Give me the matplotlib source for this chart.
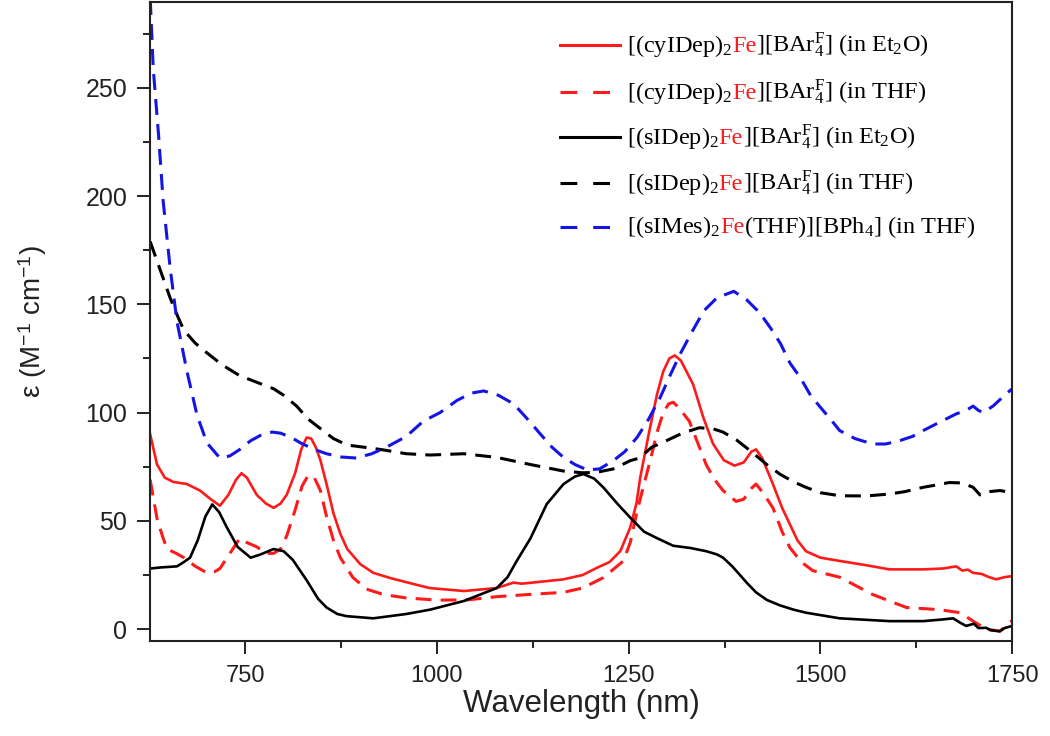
import matplotlib
matplotlib.use('Agg')
import matplotlib.pyplot as plt
from matplotlib.ticker import MultipleLocator
from matplotlib.offsetbox import TextArea, HPacker, DrawingArea, AnnotationBbox
from matplotlib.lines import Line2D

plt.rcParams['font.family'] = 'Liberation Sans'
plt.rcParams['mathtext.fontset'] = 'custom'
plt.rcParams['mathtext.rm'] = 'Liberation Serif'
plt.rcParams['mathtext.it'] = 'Liberation Serif:italic'
plt.rcParams['mathtext.sf'] = 'Liberation Sans'

# [(cyIDep)2Fe][BArF4] in Et2O  (red solid)
cy_et2o_nm = [626, 635, 645, 656, 674, 691, 705, 717, 728, 738, 745, 752, 765, 777, 787, 796, 804,
              815, 823, 830, 836, 842, 848, 856, 865, 874, 883, 900, 917, 940, 961, 990, 1035, 1078,
              1100, 1110, 1122, 1165, 1190, 1209, 1225, 1239, 1252, 1260, 1265, 1276, 1287, 1295,
              1303, 1310, 1318, 1334, 1347, 1360, 1374, 1388, 1400, 1410, 1416, 1424, 1438, 1450,
              1460, 1470, 1481, 1500, 1525, 1560, 1590, 1634, 1660, 1677, 1685, 1692, 1699, 1710,
              1720, 1729, 1740, 1750]
cy_et2o_eps = [90, 76, 70, 68, 67, 64, 60, 57, 62, 69, 72, 70, 62, 58, 56, 58, 62,
               72, 83, 88.5, 88, 84, 78, 67, 53.5, 44, 37, 30, 26, 23.5, 21.6, 19, 17.6, 19,
               21.5, 21, 21.4, 23, 25, 28.4, 31, 36, 47, 58, 70, 90, 108.6, 119,
               125, 126.4, 124, 113, 98, 85.5, 78, 75.5, 77, 82, 83, 79, 67, 56,
               48.5, 41, 36, 33, 31.5, 29.5, 27.6, 27.6, 28, 29, 27, 27.5, 26, 25.5,
               24, 23, 24, 24.5]

# [(cyIDep)2Fe][BArF4] in THF  (red dashed)
cy_thf_nm = [626, 635, 642, 648, 660, 670, 685, 700, 710, 717, 730, 743, 752, 765, 777, 787, 796,
             804, 815, 824, 832, 840, 848, 856, 865, 874, 890, 908, 930, 960, 1000, 1040, 1078,
             1120, 1165, 1190, 1217, 1243, 1252, 1261, 1270, 1278, 1287, 1295, 1302, 1308, 1316,
             1329, 1340, 1351, 1362, 1373, 1390, 1400, 1410, 1416, 1425, 1438, 1450, 1460, 1475,
             1490, 1525, 1568, 1612, 1655, 1682, 1699, 1716, 1734, 1750]
cy_thf_eps = [69, 51, 43, 37, 35, 33, 29, 26, 26.5, 28, 35, 42, 40, 38, 35, 35, 37,
              43, 55, 66, 71, 70, 64, 52, 41, 33, 24, 18.5, 16, 14.4, 13.4, 13.5, 15,
              16, 17, 19, 23.8, 31.5, 40, 54.6, 67, 77.8, 91, 100, 104, 104.8, 102,
              96, 86, 76, 69, 64, 59, 60, 65, 67, 63, 56, 45, 37.7, 31,
              27, 24, 16, 10, 9, 7.6, 3.7, 0, -0.9, 4]

# [(sIDep)2Fe][BArF4] in Et2O  (black solid)
si_et2o_nm = [626, 640, 661, 670, 678, 688, 698, 707, 716, 726, 740, 757, 770, 787, 800, 812, 830,
              845, 856, 870, 882, 917, 960, 991, 1035, 1078, 1092, 1104, 1122, 1143, 1165, 1180,
              1191, 1205, 1217, 1235, 1252, 1270, 1287, 1308, 1330, 1351, 1365, 1373, 1385, 1395,
              1405, 1416, 1430, 1447, 1465, 1481, 1525, 1590, 1634, 1660, 1673, 1682, 1690, 1700,
              1706, 1716, 1722, 1734, 1740, 1750]
si_et2o_eps = [28, 28.5, 29, 31, 33, 41, 52, 57.6, 54, 47, 38, 33, 34.5, 37, 36, 32, 22.6,
               14, 10, 7, 6, 5, 7, 9, 13, 19, 24, 31.5, 42, 57.7, 67, 70.5,
               71.6, 69.5, 65.4, 58, 51.5, 45, 42, 38.5, 37.5, 36, 34.5, 33, 29, 25,
               21, 17, 13.5, 11, 9, 7.6, 5, 3.7, 3.7, 4.5, 5, 3, 1.5, 2.5,
               0.5, 0.6, -0.5, -1, 0.5, 1.5]

# [(sIDep)2Fe][BArF4] in THF  (black dashed)
si_thf_nm = [626, 639, 652, 660, 670, 685, 700, 720, 743, 765, 787, 800, 817, 832, 848, 865, 883,
             905, 926, 960, 991, 1035, 1078, 1122, 1165, 1190, 1208, 1230, 1252, 1264, 1280, 1299,
             1320, 1342, 1360, 1373, 1390, 1408, 1430, 1447, 1465, 1481, 1500, 1525, 1560, 1590,
             1610, 1634, 1650, 1668, 1685, 1699, 1708, 1720, 1734, 1750]
si_thf_eps = [179, 166, 153, 146, 138, 132, 127.6, 122, 117, 114, 111, 108, 103, 97, 92.6, 88, 85,
              84, 83, 81, 80.4, 81, 79.3, 76, 73, 72.2, 72.4, 74, 77.8, 79, 84, 87,
              90.5, 93, 92.5, 91, 87.5, 82.5, 76, 71.6, 68, 65.5, 63, 61.6, 61.5, 62.4,
              63.5, 65.5, 66.5, 67.7, 67.5, 65.5, 62, 63.5, 64, 63]

# [(sIMes)2Fe(THF)][BPh4] in THF  (blue dashed)
mes_thf_nm = [626, 630, 637, 643, 652, 661, 674, 687, 700, 717, 730, 743, 757, 770, 785, 796, 810,
              822, 840, 856, 875, 895, 915, 934, 960, 982, 1004, 1026, 1045, 1061, 1080, 1100,
              1118, 1135, 1150, 1165, 1180, 1196, 1212, 1230, 1245, 1261, 1276, 1291, 1305, 1317,
              1332, 1348, 1365, 1387, 1404, 1421, 1435, 1448, 1460, 1474, 1487, 1500, 1513, 1525,
              1545, 1568, 1585, 1603, 1620, 1634, 1655, 1677, 1690, 1699, 1706, 1712, 1725, 1742,
              1750]
mes_thf_eps = [292, 259, 228, 197.5, 167, 142, 119, 99, 86, 79, 80, 83, 87, 89.5, 91, 90.5, 88.5,
               86, 83, 81, 79.5, 79, 81, 84, 89, 96, 100, 105.6, 109, 110, 108, 104,
               97, 90, 84, 79.3, 76, 73.5, 74, 77.8, 82, 88.6, 97, 107, 118, 127,
               137, 147, 153, 156, 152, 146, 139, 131.8, 123, 116, 108, 102.4, 97, 91.7,
               88, 85.5, 85.5, 87, 89, 91.7, 95.5, 99.4, 101, 103, 101, 100, 103, 108.6,
               111]

red = '#ff1a1a'
blue = '#1414e6'

fig = plt.figure(figsize=(10.5, 7.36), dpi=100)
ax = fig.add_axes([0.143, 0.129, 0.821, 0.868])

dash = (5.2, 3.0)
ax.plot(cy_et2o_nm, cy_et2o_eps, color=red, lw=1.9)
ax.plot(cy_thf_nm, cy_thf_eps, color=red, lw=2.2, dashes=dash)
ax.plot(si_et2o_nm, si_et2o_eps, color='black', lw=1.9)
ax.plot(si_thf_nm, si_thf_eps, color='black', lw=2.2, dashes=dash)
ax.plot(mes_thf_nm, mes_thf_eps, color=blue, lw=2.2, dashes=dash)

ax.set_xlim(626, 1750)
ax.set_ylim(-5.5, 289.5)
ax.xaxis.set_major_locator(MultipleLocator(250))
ax.xaxis.set_minor_locator(MultipleLocator(125))
ax.yaxis.set_major_locator(MultipleLocator(50))
ax.yaxis.set_minor_locator(MultipleLocator(25))
ax.tick_params(which='major', direction='out', length=9.4, width=1.4, color='#222222')
ax.tick_params(which='minor', direction='out', length=5, width=1.4, color='#222222')
ax.tick_params(axis='x', labelsize=17, pad=8, labelcolor='#222222')
ax.tick_params(axis='y', labelsize=18, pad=7, labelcolor='#222222')
for sp in ax.spines.values():
    sp.set_linewidth(1.5)
    sp.set_color('#222222')

ax.set_xlabel('Wavelength (nm)', fontsize=22.5, labelpad=1, color='#222222')
ax.set_ylabel(r'ε (M$^{\mathsf{-1}}$ cm$^{\mathsf{-1}}$)', fontsize=20, labelpad=26, color='#222222')

# legend with the iron symbol drawn in red
rows = [
    ([('[(cyIDep)$_{2}$', 'black'), ('Fe', red), (r'][BAr$^{\mathrm{F}}_{4}$] (in Et$_{2}$O)', 'black')], red, None),
    ([('[(cyIDep)$_{2}$', 'black'), ('Fe', red), (r'][BAr$^{\mathrm{F}}_{4}$] (in THF)', 'black')], red, (5.5, 5.2)),
    ([('[(sIDep)$_{2}$', 'black'), ('Fe', red), (r'][BAr$^{\mathrm{F}}_{4}$] (in Et$_{2}$O)', 'black')], 'black', None),
    ([('[(sIDep)$_{2}$', 'black'), ('Fe', red), (r'][BAr$^{\mathrm{F}}_{4}$] (in THF)', 'black')], 'black', (5.5, 5.2)),
    ([('[(sIMes)$_{2}$', 'black'), ('Fe', red), ('(THF)][BPh$_{4}$] (in THF)', 'black')], blue, (5.5, 5.2)),
]
row_y = [45, 92, 137, 183, 227]
for (pieces, col, dsh), yp in zip(rows, row_y):
    da = DrawingArea(43, 10, 0, 0)
    ln = Line2D([0, 43], [5, 5], color=col, lw=2.2)
    if dsh is not None:
        ln.set_dashes(dsh)
    da.add_artist(ln)
    texts = [TextArea(s, textprops=dict(color=c, fontsize=17.5, family='Liberation Serif'))
             for s, c in pieces]
    txt = HPacker(children=texts, align='baseline', pad=0, sep=0)
    row = HPacker(children=[da, txt], align='center', pad=0, sep=5)
    ab = AnnotationBbox(row, (560 / 1050, 1 - yp / 736), xycoords='figure fraction',
                        box_alignment=(0, 0.5), frameon=False, pad=0)
    fig.add_artist(ab)

fig.savefig('out.png', dpi=100)
